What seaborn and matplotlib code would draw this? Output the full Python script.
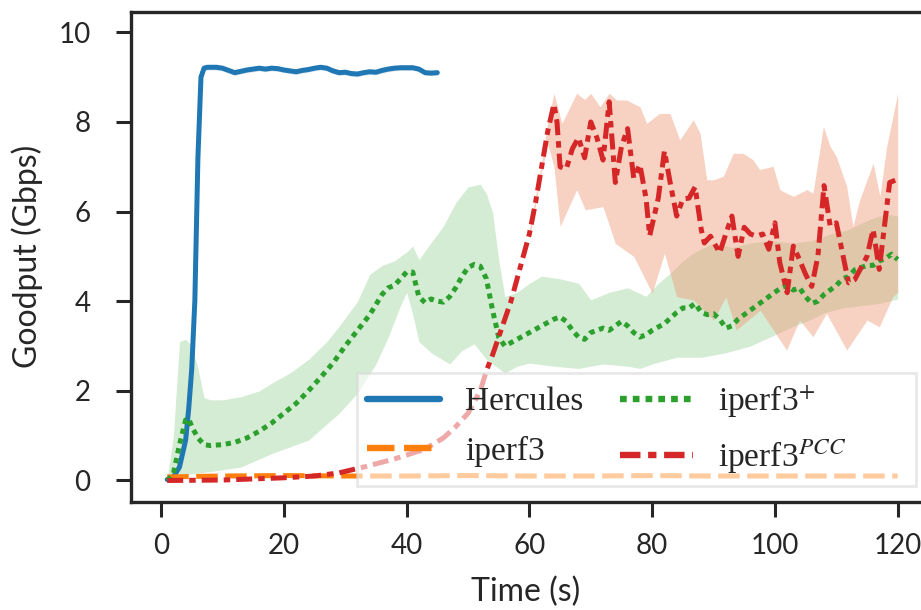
import numpy as np
import pandas as pd
import matplotlib
matplotlib.use("Agg")
import matplotlib.pyplot as plt
import seaborn as sns

# ---------------- data ----------------
herc_t = [1, 2, 3, 4, 4.5, 5, 5.5, 6, 6.5, 7, 7.5, 9, 10, 11, 12, 13, 14, 15, 16, 17, 18, 19, 20,
          21, 22, 23, 24, 25, 26, 27, 28, 29, 30, 31, 32, 33, 34, 35, 36, 37, 38, 39, 40, 41,
          42, 43, 44, 45]
herc_v = [0.02, 0.08, 0.3, 0.9, 1.6, 2.5, 4.0, 7.2, 9.0, 9.2, 9.22, 9.22, 9.2, 9.15, 9.1, 9.13,
          9.16, 9.18, 9.2, 9.18, 9.2, 9.19, 9.16, 9.14, 9.12, 9.15, 9.17, 9.2, 9.22, 9.2, 9.14,
          9.1, 9.11, 9.08, 9.07, 9.1, 9.12, 9.11, 9.15, 9.18, 9.2, 9.21, 9.21, 9.21, 9.18, 9.1,
          9.09, 9.1]

iperf_t = [1, 10, 20, 30, 40, 50, 60, 70, 80, 90, 100, 110, 120]
iperf_v = [0.08, 0.1, 0.11, 0.1, 0.1, 0.11, 0.1, 0.1, 0.11, 0.1, 0.1, 0.1, 0.1]

plus_t = [1, 2, 3, 4, 4.5, 5, 6, 7, 8, 10, 12, 14, 16, 18, 20, 22, 24, 26, 28, 30, 32, 34, 36,
          37, 38, 39, 40, 41, 42, 43, 44, 45, 46, 47, 48, 49, 50, 51, 52, 53, 54, 55, 56, 58,
          60, 62, 64, 65, 66, 67, 68, 69, 70, 71, 72, 73, 74, 75, 76, 77, 78, 79, 80, 82, 84,
          85, 86, 87, 88, 89, 90, 91, 92, 93, 94, 95, 96, 97, 98, 99, 100, 101, 102, 103, 104,
          105, 106, 107, 108, 109, 110, 111, 112, 113, 114, 115, 116, 117, 118, 119, 120]
plus_v = [0.0, 0.15, 0.8, 1.35, 1.38, 1.2, 0.95, 0.8, 0.78, 0.8, 0.85, 0.95, 1.1, 1.28, 1.5,
          1.72, 2.0, 2.3, 2.62, 3.0, 3.35, 3.7, 4.15, 4.3, 4.35, 4.5, 4.65, 4.65, 4.1, 3.97,
          4.05, 4.0, 3.98, 4.1, 4.3, 4.55, 4.75, 4.82, 4.78, 4.5, 3.8, 3.2, 3.0, 3.15, 3.3,
          3.45, 3.6, 3.65, 3.55, 3.35, 3.2, 3.15, 3.3, 3.35, 3.4, 3.35, 3.45, 3.55, 3.45, 3.3,
          3.2, 3.25, 3.35, 3.5, 3.75, 3.85, 3.85, 3.95, 3.75, 3.7, 3.72, 3.6, 3.4, 3.45, 3.6,
          3.7, 3.8, 3.9, 4.0, 4.1, 4.2, 4.3, 4.35, 4.25, 4.3, 4.1, 3.95, 4.0, 4.15, 4.25, 4.35,
          4.5, 4.55, 4.7, 4.75, 4.8, 4.8, 4.9, 4.95, 5.05, 4.93]

plus_lo_t = [1, 3, 5, 8, 13, 18, 24, 29, 32, 35, 37, 39, 40, 41, 42, 44, 47, 49, 51, 53, 54, 56,
             58, 60, 64, 68, 72, 76, 78, 80, 84, 88, 92, 96, 100, 103, 106, 108, 111, 114, 117,
             120]
plus_lo = [0.0, 0.1, 0.15, 0.2, 0.3, 0.6, 0.9, 1.5, 1.95, 2.6, 3.2, 3.9, 4.2, 3.7, 3.1, 2.85,
           2.6, 2.9, 3.05, 2.7, 2.6, 2.4, 2.55, 2.62, 2.55, 2.5, 2.6, 2.55, 2.5, 2.6, 2.75, 2.75,
           2.85, 3.0, 3.25, 3.44, 3.6, 3.74, 3.85, 3.9, 3.95, 4.05]
plus_hi_t = [1, 2, 3, 4, 5, 6, 7, 8, 10, 13, 16, 18, 21, 24, 27, 29, 32, 34, 36, 38, 40, 41, 42,
             44, 46, 48, 50, 52, 53, 54, 55, 56, 58, 60, 62, 65, 68, 70, 73, 76, 79, 81, 83, 85,
             87, 90, 93, 96, 99, 103, 106, 109, 112, 115, 118, 120]
plus_hi = [0.05, 1.0, 3.1, 3.15, 3.0, 2.5, 1.85, 1.8, 1.8, 1.87, 2.0, 2.17, 2.4, 2.7, 3.1, 3.44,
           4.0, 4.6, 4.8, 4.9, 5.1, 5.23, 4.93, 5.31, 5.68, 6.2, 6.55, 6.61, 6.4, 5.98, 4.93,
           4.1, 4.2, 4.4, 4.56, 4.5, 4.4, 4.03, 4.2, 4.3, 4.11, 4.4, 4.63, 4.9, 5.1, 5.3, 5.2,
           5.3, 5.35, 5.3, 5.35, 5.5, 5.6, 5.8, 5.95, 5.9]

pcc_t = [1, 10, 20, 25, 29, 33, 38, 43, 46, 48, 50, 52, 53, 54, 55, 56, 57, 58, 59, 60, 61, 62,
         63, 64, 64.5, 65, 66, 67, 68, 69, 70, 71, 72, 73, 74, 75, 76, 77, 78, 79, 79.6, 81, 82,
         83, 84, 85, 86, 87, 88, 88.5, 89.5, 91, 92, 93, 94, 95, 96, 97, 98, 99, 100, 100.8,
         102, 103, 104, 105, 106, 107, 108, 109, 110, 111, 112, 113, 115, 116, 117, 118.7, 120]
pcc_v = [0.0, 0.01, 0.06, 0.1, 0.17, 0.3, 0.48, 0.7, 0.95, 1.2, 1.5, 2.0, 2.45, 2.8, 3.2, 3.6,
         4.0, 4.5, 5.0, 5.5, 6.2, 7.0, 7.8, 8.4, 8.0, 7.0, 6.95, 7.4, 7.65, 7.2, 8.0, 7.65, 7.15,
         8.45, 6.65, 7.45, 7.85, 6.75, 7.05, 6.3, 5.46, 6.3, 7.35, 6.6, 5.9, 6.28, 6.3, 6.55,
         5.6, 5.3, 5.45, 5.08, 5.5, 5.9, 5.0, 5.65, 5.5, 5.45, 5.5, 5.16, 5.75, 4.86, 4.19,
         5.23, 4.93, 4.6, 4.33, 5.0, 6.58, 5.68, 5.75, 5.08, 4.41, 4.48, 5.0, 5.6, 4.71, 6.65,
         6.72]

pcc_hi_t = [60, 62, 63, 64, 65.3, 67.7, 69, 70, 71.5, 73, 74.2, 75.8, 78, 79.1, 81.2, 82.9,
            84.5, 86.7, 87.8, 88.9, 90, 91.6, 93.2, 94.8, 96.4, 97.5, 99.7, 100.8, 101.9, 103,
            105.2, 106.2, 107.9, 109, 110, 111.7, 112.7, 113.8, 116, 117.1, 118.2, 120]
pcc_hi = [5.6, 7.1, 8.0, 8.64, 7.97, 8.64, 8.5, 8.64, 8.34, 8.64, 8.49, 8.49, 8.34, 7.97, 8.19,
          8.19, 7.6, 8.05, 7.75, 6.71, 6.71, 6.79, 7.3, 7.3, 7.16, 6.94, 7.01, 6.49, 6.41, 6.34,
          6.49, 6.41, 7.9, 7.45, 7.23, 6.56, 5.67, 6.26, 7.08, 6.34, 7.45, 8.64]
pcc_lo_t = [60, 62, 63, 64, 65, 67.7, 69.1, 72, 74, 77, 80, 82, 84, 86.7, 90, 92, 93.7, 97.6,
            101.9, 104, 106.2, 108.4, 111.7, 115, 117, 119.2, 120]
pcc_lo = [5.4, 6.9, 7.5, 7.0, 5.67, 6.49, 6.04, 6.11, 5.29, 5.0, 4.18, 5.07, 4.1, 4.03, 3.58,
          4.1, 3.36, 3.8, 2.91, 3.58, 3.21, 3.73, 2.91, 3.58, 3.43, 4.1, 4.2]

labels = ["Hercules", "iperf3", r"iperf3$^{+}$", r"iperf3$^{PCC}$"]
colors = ["#1f77b4", "#ff7f0e", "#2ca02c", "#d62728"]

# ---------------- style ----------------
sns.set_theme(style="ticks")
plt.rcParams["font.family"] = ["Lato", "DejaVu Sans"]
plt.rcParams["mathtext.fontset"] = "stix"

fig = plt.figure(figsize=(9.21, 6.10), dpi=100)
ax = fig.add_axes([131 / 921, 1 - 502 / 610, 1 - 131 / 921, (502 - 11.7) / 610])

# bands
ax.fill_between(herc_t, np.array(herc_v) - 0.06, np.array(herc_v) + 0.05,
                color=colors[0], alpha=0.2, lw=0)
band_t = sorted(set(plus_lo_t) | set(plus_hi_t))
ax.fill_between(band_t, np.interp(band_t, plus_lo_t, plus_lo),
                np.interp(band_t, plus_hi_t, plus_hi), color=colors[2], alpha=0.2, lw=0)
pband_t = sorted(set(pcc_lo_t) | set(pcc_hi_t))
ax.fill_between(pband_t, np.interp(pband_t, pcc_lo_t, pcc_lo),
                np.interp(pband_t, pcc_hi_t, pcc_hi), color="#ef9a78", alpha=0.45, lw=0)

lw = 3.6
sns.lineplot(x=herc_t, y=herc_v, ax=ax, color=colors[0], lw=lw, label=labels[0])
sns.lineplot(x=iperf_t, y=iperf_v, ax=ax, color=colors[1], lw=lw, label=labels[1])
sns.lineplot(x=plus_t, y=plus_v, ax=ax, color=colors[2], lw=lw, label=labels[2])
sns.lineplot(x=pcc_t, y=pcc_v, ax=ax, color=colors[3], lw=lw, label=labels[3])

dash_styles = [None, (4.3, 1.5), (1.05, 0.95), (3.2, 1.2, 1.3, 1.2)]
for line, d in zip(ax.lines, dash_styles):
    if d is not None:
        line.set_dashes(d)
        line.set_dash_capstyle("butt")

ax.set_xlim(-4.9, 123.8)
ax.set_ylim(-0.48, 10.46)
ax.set_xticks([0, 20, 40, 60, 80, 100, 120])
ax.set_yticks([0, 2, 4, 6, 8, 10])
ax.set_xlabel("Time (s)", fontsize=23, labelpad=13)
ax.set_ylabel("Goodput (Gbps)", fontsize=23, labelpad=11)
ax.tick_params(axis="both", direction="out", length=11, width=2.2, color="#262626",
               labelsize=20)
ax.tick_params(axis="x", pad=11)
ax.tick_params(axis="y", pad=18)
for side in ["left", "bottom", "top"]:
    ax.spines[side].set_linewidth(2.4)
    ax.spines[side].set_color("#262626")
ax.spines["right"].set_visible(False)

handles, _ = ax.get_legend_handles_labels()
leg_labels = [labels[0], labels[1], labels[2], labels[3] + "        "]
leg = ax.legend(handles, leg_labels, loc="lower right",
                bbox_to_anchor=(916 / 921, 1 - 486 / 610),
                bbox_transform=fig.transFigure, borderaxespad=0, ncol=2,
                prop={"family": "Liberation Serif", "size": 24}, framealpha=0.6,
                edgecolor="#d9d9d9", fancybox=False, handlelength=2.2, columnspacing=1.1,
                labelspacing=0.55, handletextpad=0.75, borderpad=0.3)
leg.get_frame().set_linewidth(2)
for h in leg.get_lines():
    h.set_linewidth(4.6)

fig.savefig("out.png", dpi=100)
